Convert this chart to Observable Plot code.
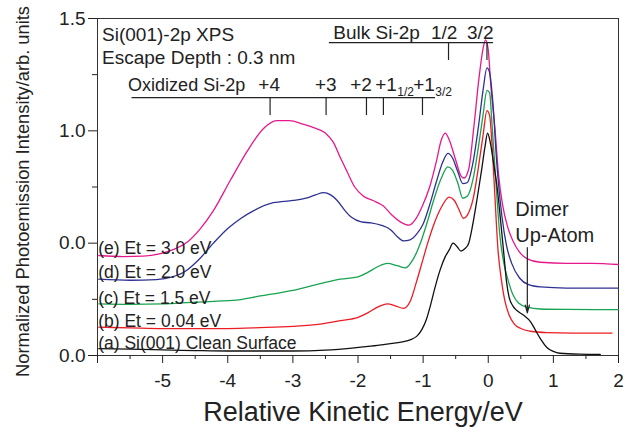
<!DOCTYPE html>
<html><head><meta charset="utf-8">
<script src="https://cdn.jsdelivr.net/npm/d3@7"></script>
<script src="https://cdn.jsdelivr.net/npm/@observablehq/plot@0.6"></script>
<style>html,body{margin:0;padding:0;background:#fff}</style>
</head><body><div id="chart"></div>
<script>
// ---- data ----
const xTicks = [-6,-5,-4,-3,-2,-1,0,1,2];
const xTickLabels = ["","-5","-4","-3","-2","-1","0","1","2"];
const xMinorTicks = [-5.5,-4.5,-3.5,-2.5,-1.5,-0.5,0.5,1.5];
const yTicks = [0,0.5,1,1.5];
const yTickLabels = ["0.0","0.0","1.0","1.5"];
const yMinorTicks = [0.25,0.75,1.25];

const seriesNames = ["(e) Et = 3.0 eV","(d) Et = 2.0 eV","(c) Et = 1.5 eV","(b) Et = 0.04 eV","(a) Si(001) Clean Surface"];
const seriesColors = ["#e6198b","#2e3192","#17a34f","#ec1c24","#111111"];

const curveE = [[-5.98,0.445],[-5.6,0.44],[-5.3,0.442],[-5.05,0.452],[-4.85,0.47],[-4.62,0.505],[-4.42,0.565],[-4.22,0.645],[-3.96,0.78],[-3.70,0.91],[-3.45,1.01],[-3.25,1.045],[-3.05,1.045],[-2.85,1.03],[-2.69,1.015],[-2.5,0.99],[-2.38,0.95],[-2.27,0.88],[-2.17,0.82],[-2.05,0.75],[-1.92,0.71],[-1.77,0.69],[-1.61,0.665],[-1.48,0.625],[-1.35,0.595],[-1.22,0.58],[-1.12,0.605],[-1.02,0.66],[-0.9,0.75],[-0.8,0.86],[-0.72,0.96],[-0.66,0.99],[-0.6,0.96],[-0.5,0.87],[-0.42,0.80],[-0.37,0.79],[-0.3,0.83],[-0.22,1.02],[-0.14,1.24],[-0.07,1.38],[-0.04,1.405],[0.0,1.36],[0.04,1.2],[0.1,1.02],[0.16,0.80],[0.22,0.67],[0.3,0.57],[0.38,0.51],[0.48,0.46],[0.6,0.43],[0.8,0.415],[1.2,0.41],[1.6,0.41],[2.0,0.405]];
const curveD = [[-5.98,0.34],[-5.5,0.335],[-5.1,0.338],[-4.85,0.35],[-4.65,0.375],[-4.45,0.425],[-4.22,0.50],[-4.0,0.565],[-3.8,0.61],[-3.6,0.645],[-3.3,0.68],[-3.0,0.69],[-2.8,0.70],[-2.65,0.715],[-2.53,0.725],[-2.42,0.715],[-2.32,0.69],[-2.2,0.645],[-2.1,0.615],[-1.95,0.595],[-1.8,0.59],[-1.65,0.58],[-1.5,0.56],[-1.4,0.53],[-1.3,0.51],[-1.2,0.515],[-1.1,0.54],[-1.0,0.585],[-0.9,0.67],[-0.8,0.77],[-0.7,0.86],[-0.62,0.90],[-0.55,0.88],[-0.47,0.82],[-0.39,0.765],[-0.32,0.77],[-0.24,0.85],[-0.15,1.02],[-0.08,1.18],[-0.02,1.28],[0.02,1.26],[0.07,1.13],[0.13,0.86],[0.21,0.62],[0.28,0.49],[0.36,0.41],[0.48,0.345],[0.62,0.315],[0.8,0.305],[1.2,0.30],[2.0,0.30]];
const curveC = [[-5.98,0.23],[-5.5,0.228],[-5.0,0.23],[-4.5,0.238],[-3.92,0.245],[-3.5,0.265],[-3.0,0.29],[-2.58,0.32],[-2.27,0.34],[-2.0,0.35],[-1.85,0.37],[-1.7,0.395],[-1.55,0.41],[-1.4,0.40],[-1.27,0.39],[-1.15,0.43],[-1.03,0.51],[-0.93,0.60],[-0.84,0.69],[-0.72,0.79],[-0.62,0.84],[-0.55,0.825],[-0.47,0.77],[-0.39,0.70],[-0.32,0.71],[-0.23,0.79],[-0.15,0.93],[-0.08,1.07],[-0.02,1.18],[0.02,1.17],[0.06,1.02],[0.12,0.76],[0.18,0.53],[0.24,0.41],[0.3,0.34],[0.38,0.27],[0.46,0.235],[0.6,0.215],[0.8,0.207],[1.2,0.205],[2.0,0.204]];
const curveB = [[-5.98,0.126],[-5.5,0.123],[-5.0,0.12],[-4.5,0.12],[-4.0,0.12],[-3.5,0.124],[-3.0,0.13],[-2.58,0.14],[-2.27,0.155],[-2.0,0.17],[-1.85,0.19],[-1.7,0.215],[-1.55,0.23],[-1.42,0.22],[-1.3,0.21],[-1.2,0.24],[-1.1,0.33],[-1.02,0.41],[-0.93,0.50],[-0.84,0.58],[-0.72,0.66],[-0.6,0.705],[-0.52,0.69],[-0.45,0.65],[-0.38,0.61],[-0.32,0.625],[-0.23,0.70],[-0.15,0.84],[-0.08,0.98],[-0.02,1.09],[0.02,1.07],[0.06,0.93],[0.1,0.72],[0.15,0.47],[0.2,0.34],[0.25,0.25],[0.32,0.18],[0.4,0.14],[0.5,0.12],[0.65,0.108],[0.9,0.102],[1.3,0.10],[1.9,0.10]];
const curveA = [[-5.98,0.031],[-5.5,0.028],[-5.0,0.025],[-4.5,0.022],[-4.0,0.02],[-3.5,0.02],[-3.0,0.02],[-2.5,0.024],[-2.0,0.036],[-1.7,0.045],[-1.5,0.053],[-1.3,0.062],[-1.2,0.07],[-1.1,0.085],[-1.02,0.115],[-0.95,0.16],[-0.89,0.22],[-0.82,0.30],[-0.74,0.38],[-0.66,0.44],[-0.6,0.47],[-0.54,0.50],[-0.48,0.485],[-0.42,0.465],[-0.36,0.475],[-0.3,0.50],[-0.24,0.58],[-0.17,0.70],[-0.1,0.83],[-0.05,0.93],[-0.01,0.99],[0.03,0.95],[0.08,0.86],[0.14,0.74],[0.19,0.60],[0.24,0.45],[0.28,0.33],[0.32,0.26],[0.38,0.22],[0.44,0.20],[0.54,0.18],[0.65,0.15],[0.72,0.115],[0.8,0.075],[0.9,0.036],[1.0,0.018],[1.1,0.01],[1.4,0.006],[1.72,0.005]];
const curves = [curveE, curveD, curveC, curveB, curveA];

// annotation data (energies in eV)
const oxStateLabels = ["+4","+3","+2","+1","+1"];
const oxStateSubs = ["1/2","3/2"];
const oxStateEnergies = [-3.35,-2.49,-1.87,-1.61,-1.01];
const bulkLabels = ["1/2","3/2"];
const bulkEnergies = [-0.61,-0.02];
const dimerEnergy = 0.6;

// ---- build ----
const font = "'Liberation Sans', Arial, Helvetica, sans-serif";
const lineMarks = curves.map((c, i) => Plot.line(c, {
  x: d => d[0], y: d => d[1], stroke: seriesColors[i], strokeWidth: 1.3, curve: "monotone-x"
}));

const oxLabelX = [-3.53,-2.66,-2.12,-1.736,-1.152];
const oxSubX = [-1.398,-0.814];
const bulkLabelX = [-0.676,-0.123];
const curveLabelY = [0.454,0.347,0.231,0.125,0.031];

const chart = Plot.plot({
  width: 634, height: 427,
  marginLeft: 97, marginRight: 16, marginTop: 18, marginBottom: 72,
  x: {domain: [-6, 2]},
  y: {domain: [0, 1.5]},
  style: {fontFamily: font, fontSize: "19px", color: "#222", background: "#fff"},
  marks: [
    Plot.frame({stroke: "#333", strokeWidth: 1}),
    Plot.axisX(xTicks, {tickSize: 8, tickPadding: 10, fontSize: 19, label: null,
      tickFormat: d => xTickLabels[xTicks.indexOf(d)]}),
    Plot.axisX(xMinorTicks, {tickSize: 4, tickFormat: () => "", label: null}),
    Plot.axisY(yTicks, {tickSize: 9, tickPadding: 3, fontSize: 19, label: null,
      tickFormat: d => yTickLabels[yTicks.indexOf(d)]}),
    Plot.axisY(yMinorTicks, {tickSize: 5, tickFormat: () => "", label: null}),
    ...lineMarks,
    // curve labels
    Plot.text(seriesNames, {x: -5.99, y: (d, i) => curveLabelY[i], text: d => d,
      textAnchor: "start", lineAnchor: "bottom", fontSize: 17.5, fill: "#222"}),
    // titles
    Plot.text(["Si(001)-2p XPS", "Escape Depth : 0.3 nm"], {x: -5.93, y: (d, i) => [1.402, 1.297][i], text: d => d,
      textAnchor: "start", lineAnchor: "bottom", fontSize: 19, fill: "#222"}),
    // oxidized
    Plot.text(["Oxidized Si-2p"], {x: -5.53, y: 1.179, text: d => d, textAnchor: "start", lineAnchor: "bottom", fontSize: 18, fill: "#222"}),
    Plot.text(oxStateLabels, {x: (d, i) => oxLabelX[i], y: 1.179, text: d => d, textAnchor: "start", lineAnchor: "bottom", fontSize: 19, fill: "#222"}),
    Plot.text(oxStateSubs, {x: (d, i) => oxSubX[i], y: 1.157, text: d => d, textAnchor: "start", lineAnchor: "bottom", fontSize: 12, fill: "#222"}),
    Plot.ruleY([1.148], {x1: -5.47, x2: -0.81, stroke: "#222", strokeWidth: 1.2}),
    Plot.ruleX(oxStateEnergies, {y1: 1.068, y2: 1.148, stroke: "#222", strokeWidth: 1.2}),
    // bulk
    Plot.text(["Bulk Si-2p"], {x: -2.38, y: 1.41, text: d => d, textAnchor: "start", lineAnchor: "bottom", fontSize: 19, fill: "#222"}),
    Plot.text(bulkLabels, {x: (d, i) => bulkLabelX[i], y: 1.41, text: d => d, textAnchor: "middle", lineAnchor: "bottom", fontSize: 19, fill: "#222"}),
    Plot.ruleY([1.393], {x1: -2.44, x2: 0.08, stroke: "#222", strokeWidth: 1.2}),
    Plot.ruleX(bulkEnergies, {y1: 1.313, y2: 1.393, stroke: "#222", strokeWidth: 1.2}),
    // dimer
    Plot.text(["Dimer", "Up-Atom"], {x: 0.415, y: (d, i) => [0.623, 0.503][i], text: d => d, textAnchor: "start", lineAnchor: "bottom", fontSize: 20, fill: "#222"}),
    Plot.arrow([dimerEnergy], {x1: d => d, x2: d => d, y1: 0.48, y2: 0.19, stroke: "#222", strokeWidth: 1.2, headLength: 10, headAngle: 30}),
    // axis titles
    Plot.text(["Relative Kinetic Energy/eV"], {frameAnchor: "bottom", dx: 5, dy: 65, text: d => d, textAnchor: "middle", lineAnchor: "bottom", fontSize: 27, fill: "#222"}),
    Plot.text(["Normalized Photoemission Intensity/arb. units"], {frameAnchor: "left", dx: -69, dy: 4.5, rotate: -90, text: d => d, textAnchor: "middle", lineAnchor: "bottom", fontSize: 18.3, fill: "#222"})
  ]
});
document.getElementById("chart").appendChild(chart);
</script></body></html>
